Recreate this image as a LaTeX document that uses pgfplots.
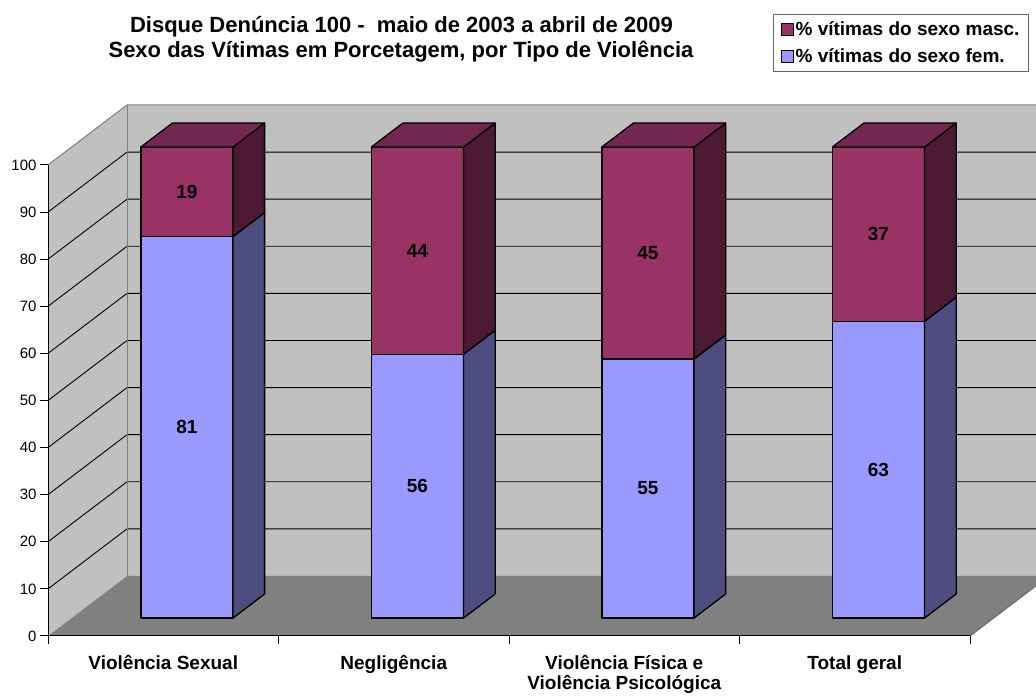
\documentclass[border=0pt]{standalone}
\usepackage{fontspec}
\setmainfont{Liberation Sans}
\usepackage{pgfplots}
\pgfplotsset{compat=1.18}

\definecolor{femfront}{HTML}{9999FF}
\definecolor{femside}{HTML}{4D4D80}
\definecolor{mascfront}{HTML}{993366}
\definecolor{mascside}{HTML}{4D1A33}
\definecolor{masctop}{HTML}{732650}
\definecolor{wallc}{HTML}{C0C0C0}
\definecolor{floorc}{HTML}{808080}

% depth of the box (axis units) and of the bars
\def\DX{0.34273}\def\DY{12.739}
\def\fx{0.10282}\def\fy{3.8217}
\def\bx{0.13709}\def\by{5.0955}

\pgfplotsset{
  face/.style={draw=black, line width=1.3pt, line join=round, forget plot},
}
\tikzset{
  lab/.style={font=\bfseries\fontsize{19}{19}\selectfont, text=black},
}

% #1 category centre, #2 fem, #3 masc
\newcommand\drawbar[3]{%
  \pgfmathsetmacro\L{#1-0.2+\fx}%
  \pgfmathsetmacro\R{#1+0.2+\fx}%
  \pgfmathsetmacro\LL{\L+\bx}%
  \pgfmathsetmacro\RR{\R+\bx}%
  \pgfmathsetmacro\C{#1+\fx}%
  \pgfmathsetmacro\yA{\fy}%
  \pgfmathsetmacro\yB{\fy+#2}%
  \pgfmathsetmacro\yC{\fy+#2+#3}%
  \pgfmathsetmacro\yAb{\yA+\by}%
  \pgfmathsetmacro\yBb{\yB+\by}%
  \pgfmathsetmacro\yCb{\yC+\by}%
  \pgfmathsetmacro\mF{\fy+#2/2}%
  \pgfmathsetmacro\mM{\fy+#2+#3/2}%
  \edef\temp{%
    \noexpand\addplot[face, fill=femfront] coordinates {(\L,\yA) (\R,\yA) (\R,\yB) (\L,\yB)} -- cycle;
    \noexpand\addplot[face, fill=femside] coordinates {(\R,\yA) (\RR,\yAb) (\RR,\yBb) (\R,\yB)} -- cycle;
    \noexpand\addplot[face, fill=mascfront] coordinates {(\L,\yB) (\R,\yB) (\R,\yC) (\L,\yC)} -- cycle;
    \noexpand\addplot[face, fill=mascside] coordinates {(\R,\yB) (\RR,\yBb) (\RR,\yCb) (\R,\yC)} -- cycle;
    \noexpand\addplot[face, fill=masctop] coordinates {(\L,\yC) (\R,\yC) (\RR,\yCb) (\LL,\yCb)} -- cycle;
    \noexpand\node[lab] at (axis cs:\C,\mF) {#2};
    \noexpand\node[lab] at (axis cs:\C,\mM) {#3};
  }\temp}

\begin{document}
\begin{tikzpicture}
\useasboundingbox (0,0) rectangle (1036pt,696pt);
\clip (0,0) rectangle (1036pt,696pt);

\node[font=\bfseries\fontsize{22}{22}\selectfont, anchor=base] at (401.5pt,663.5pt)
  {Disque Denúncia 100 -\ \ maio de 2003 a abril de 2009};
\node[font=\bfseries\fontsize{22}{22}\selectfont, anchor=base] at (401pt,638pt)
  {Sexo das Vítimas em Porcetagem, por Tipo de Violência};

\begin{axis}[
  at={(48pt,60pt)}, anchor=south west,
  scale only axis, width=922pt, height=471pt,
  xmin=0, xmax=4, ymin=0, ymax=100,
  clip=false, axis on top,
  axis x line=bottom, axis y line=left,
  axis line style={-, black, line width=1pt},
  tick align=outside, major tick length=8pt,
  tick style={black, line width=1pt},
  ytick={0,10,...,100},
  xtick={0,1,2,3,4}, xticklabels={,,,,},
  extra x ticks={0.5,1.5,2.5,3.5},
  extra x tick labels={Violência Sexual, Negligência, {Violência Física e\\Violência Psicológica}, Total geral},
  extra x tick style={major tick length=0pt},
  xticklabel style={align=center, yshift=-16pt, font=\bfseries\fontsize{19}{19.5}\selectfont},
  yticklabel style={font=\fontsize{15}{15}\selectfont},
  /pgf/number format/assume math mode=true,
  legend style={at={(1.064,1.3206)}, anchor=north east, draw=black!60, line width=1pt,
    fill=white, font=\bfseries\fontsize{19}{19}\selectfont,
    inner xsep=7pt, inner ysep=5pt, row sep=8pt},
  legend cell align=left,
  legend image code/.code={\draw[#1, draw=black, line width=1pt] (0pt,-6pt) rectangle (12pt,6pt);},
]
% walls and floor
\fill[wallc] (axis cs:0,0) -- (axis cs:0,100) -- ++(axis direction cs:\DX,\DY) -- (axis cs:\DX,\DY) -- cycle;
\fill[wallc] (axis cs:\DX,\DY) -- ++(axis direction cs:0,100) -- ++(axis direction cs:4,0) -- ++(axis direction cs:0,-100) -- cycle;
\fill[floorc] (axis cs:0,0) -- (axis cs:4,0) -- ++(axis direction cs:\DX,\DY) -- (axis cs:\DX,\DY) -- cycle;
% gridlines
\pgfplotsinvokeforeach{10,20,30,40,50,60,70,80,90}{
  \draw[black, line width=0.9pt] (axis cs:0,#1) -- ++(axis direction cs:\DX,\DY) -- ++(axis direction cs:4,0);
}
% box edges
\draw[floorc, line width=1pt] (axis cs:0,100) -- ++(axis direction cs:\DX,\DY) -- ++(axis direction cs:4,0);
\draw[floorc, line width=1pt] (axis cs:\DX,\DY) -- ++(axis direction cs:0,100);
\draw[floorc!80!black, line width=1pt] (axis cs:4,0) -- ++(axis direction cs:\DX,\DY);

\addlegendimage{fill=mascfront}
\addlegendentry{\% vítimas do sexo masc.}
\addlegendimage{fill=femfront}
\addlegendentry{\% vítimas do sexo fem.}

\drawbar{0.5}{81}{19}
\drawbar{1.5}{56}{44}
\drawbar{2.5}{55}{45}
\drawbar{3.5}{63}{37}
\end{axis}
\end{tikzpicture}
\end{document}
